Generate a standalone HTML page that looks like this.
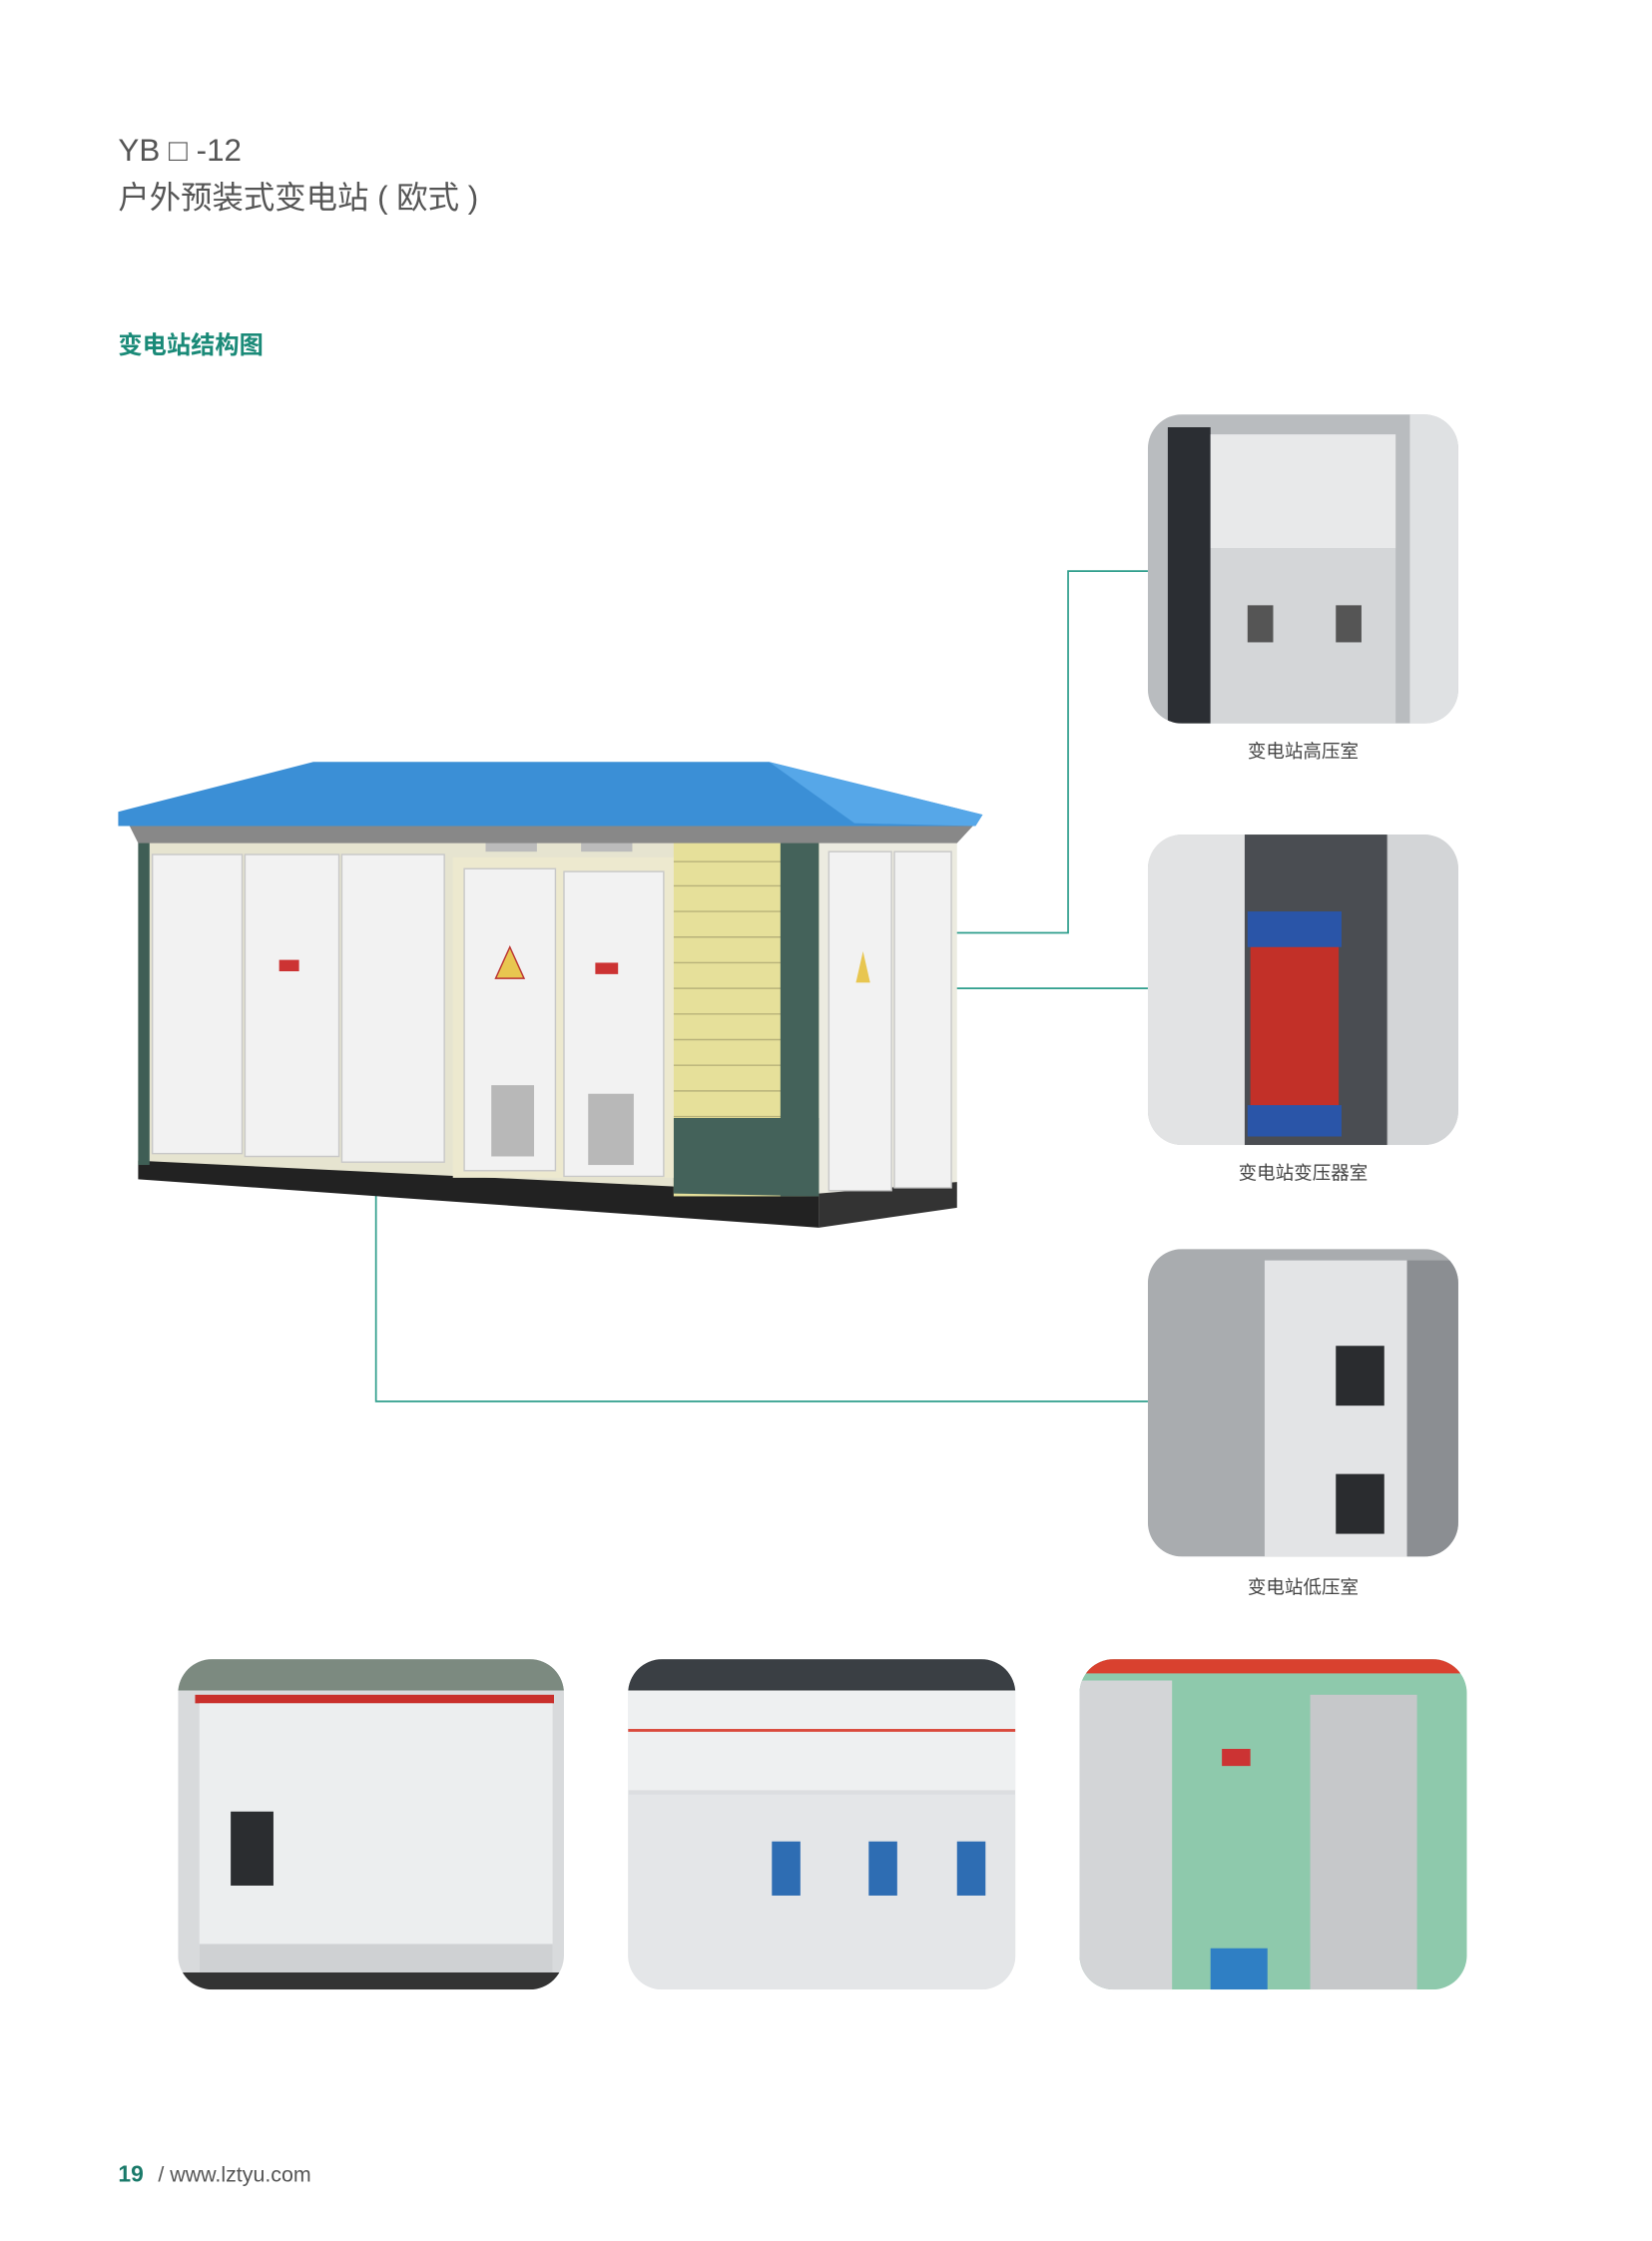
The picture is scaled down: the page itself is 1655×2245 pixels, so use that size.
<!DOCTYPE html>
<html><head><meta charset="utf-8"><style>
html,body{margin:0;padding:0;background:#fff}
svg{display:block}
text{font-family:"Liberation Sans","Noto Sans CJK SC",sans-serif}
</style></head><body>
<svg width="1655" height="2245" viewBox="0 0 1160 1573.55" xmlns="http://www.w3.org/2000/svg">
<defs>
<clipPath id="c1"><rect x="806" y="291" width="218" height="217" rx="24"/></clipPath>
<clipPath id="c2"><rect x="806" y="586" width="218" height="218" rx="24"/></clipPath>
<clipPath id="c3"><rect x="806" y="877" width="218" height="216" rx="24"/></clipPath>
<clipPath id="b1"><rect x="125" y="1165" width="271" height="232" rx="24"/></clipPath>
<clipPath id="b2"><rect x="441" y="1165" width="272" height="232" rx="24"/></clipPath>
<clipPath id="b3"><rect x="758" y="1165" width="272" height="232" rx="24"/></clipPath>
</defs>
<rect width="1160" height="1574" fill="#fff"/>
<text x="83" y="113" font-size="22" fill="#555">YB □ -12</text>
<text x="83" y="146" font-size="22" fill="#555">户外预装式变电站 ( 欧式 )</text>
<text x="83" y="248" font-size="17" font-weight="bold" fill="#1a8a78">变电站结构图</text>

<g stroke="#2f9e8c" stroke-width="1.2" fill="none">
<polyline points="656,655 750,655 750,401 806,401"/>
<polyline points="435,694 806,694"/>
<polyline points="264,785 264,984 806,984"/>
</g>

<g>
<polygon points="97,590 575,590 575,840 97,818" fill="#e6e4d0"/>
<polygon points="575,590 672,590 672,840 575,852" fill="#ecebe0"/>
<polygon points="97,815 575,838 575,862 97,828" fill="#222"/>
<polygon points="575,838 672,830 672,848 575,862" fill="#333"/>
<rect x="97" y="590" width="8" height="228" fill="#3f5e55"/>
<rect x="473" y="590" width="102" height="250" fill="#e6e09a"/>
<g stroke="#b8b27a" stroke-width="1">
<path d="M473,605H560M473,622H560M473,640H560M473,658H560M473,676H560M473,694H560M473,712H560M473,730H560M473,748H560M473,766H560M473,784H560"/>
</g>
<polygon points="548,590 575,590 575,840 548,840" fill="#44625a"/>
<polygon points="473,785 575,785 575,840 473,838" fill="#44625a"/>
<rect x="107" y="600" width="63" height="210" fill="#f2f2f2" stroke="#c8c8c8"/>
<rect x="172" y="600" width="66" height="212" fill="#f2f2f2" stroke="#c8c8c8"/>
<rect x="240" y="600" width="72" height="216" fill="#f2f2f2" stroke="#c8c8c8"/>
<rect x="318" y="602" width="155" height="225" fill="#ede9cf"/>
<rect x="326" y="610" width="64" height="212" fill="#f2f2f2" stroke="#c8c8c8"/>
<rect x="396" y="612" width="70" height="214" fill="#f2f2f2" stroke="#c8c8c8"/>
<rect x="345" y="762" width="30" height="50" fill="#b8b8b8"/>
<rect x="413" y="768" width="32" height="50" fill="#b8b8b8"/>
<polygon points="358,665 348,687 368,687" fill="#e8c650" stroke="#b33" stroke-width="1"/>
<rect x="196" y="674" width="14" height="8" fill="#c33"/>
<rect x="418" y="676" width="16" height="8" fill="#c33"/>
<rect x="582" y="598" width="44" height="238" fill="#f2f2f2" stroke="#c8c8c8"/>
<rect x="628" y="598" width="40" height="236" fill="#f2f2f2" stroke="#c8c8c8"/>
<polygon points="606,668 601,690 611,690" fill="#e8c650"/>
<rect x="341" y="588" width="36" height="10" fill="#bbb"/>
<rect x="408" y="588" width="36" height="10" fill="#bbb"/>
<polygon points="90,578 685,578 672,592 97,592" fill="#888"/>
<polygon points="220,535 540,535 690,572 685,580 83,580 83,570" fill="#3b8fd6"/>
<polygon points="540,535 690,572 685,580 600,578" fill="#56a7e8"/>
</g>

<g clip-path="url(#c1)">
<rect x="806" y="291" width="218" height="217" fill="#b9bcbf"/>
<rect x="820" y="300" width="30" height="208" fill="#2b2e33"/>
<rect x="850" y="305" width="130" height="80" fill="#e8e9ea"/>
<rect x="850" y="385" width="130" height="123" fill="#d4d6d8"/>
<rect x="990" y="291" width="34" height="217" fill="#dfe1e3"/>
<rect x="876" y="425" width="18" height="26" fill="#555"/>
<rect x="938" y="425" width="18" height="26" fill="#555"/>
</g>
<text x="915" y="532" font-size="13" fill="#444" text-anchor="middle">变电站高压室</text>

<g clip-path="url(#c2)">
<rect x="806" y="586" width="218" height="218" fill="#c9cbcd"/>
<rect x="806" y="586" width="68" height="218" fill="#e2e3e4"/>
<rect x="874" y="586" width="100" height="218" fill="#4a4d52"/>
<rect x="878" y="660" width="62" height="120" fill="#c23028"/>
<rect x="876" y="640" width="66" height="25" fill="#2a55a8"/>
<rect x="876" y="776" width="66" height="22" fill="#2a55a8"/>
<rect x="975" y="586" width="49" height="218" fill="#d3d5d7"/>
</g>
<text x="915" y="828" font-size="13" fill="#444" text-anchor="middle">变电站变压器室</text>

<g clip-path="url(#c3)">
<rect x="806" y="877" width="218" height="216" fill="#a9acaf"/>
<rect x="888" y="885" width="100" height="208" fill="#e3e4e6"/>
<rect x="938" y="945" width="34" height="42" fill="#2a2c2f"/>
<rect x="938" y="1035" width="34" height="42" fill="#2a2c2f"/>
<rect x="988" y="885" width="36" height="208" fill="#8b8e92"/>
</g>
<text x="915" y="1119" font-size="13" fill="#444" text-anchor="middle">变电站低压室</text>

<g clip-path="url(#b1)">
<rect x="125" y="1165" width="271" height="232" fill="#d8dadc"/>
<rect x="125" y="1165" width="271" height="22" fill="#7c8a80"/>
<rect x="137" y="1190" width="252" height="6" fill="#c9302c"/>
<rect x="140" y="1196" width="248" height="190" fill="#eceeef"/>
<rect x="162" y="1272" width="30" height="52" fill="#2b2d30"/>
<rect x="140" y="1365" width="248" height="20" fill="#cfd1d3"/>
<rect x="125" y="1385" width="271" height="12" fill="#333"/>
</g>
<g clip-path="url(#b2)">
<rect x="441" y="1165" width="272" height="232" fill="#dcdee0"/>
<rect x="441" y="1165" width="272" height="22" fill="#3a3f44"/>
<rect x="441" y="1187" width="272" height="70" fill="#eef0f1"/>
<rect x="441" y="1214" width="272" height="2" fill="#d9493c"/>
<rect x="441" y="1260" width="272" height="137" fill="#e4e6e8"/>
<rect x="542" y="1293" width="20" height="38" fill="#2e6db3"/>
<rect x="610" y="1293" width="20" height="38" fill="#2e6db3"/>
<rect x="672" y="1293" width="20" height="38" fill="#2e6db3"/>
</g>
<g clip-path="url(#b3)">
<rect x="758" y="1165" width="272" height="232" fill="#8ec9ac"/>
<rect x="758" y="1165" width="272" height="10" fill="#d9412f"/>
<rect x="758" y="1180" width="65" height="217" fill="#d3d5d7"/>
<rect x="920" y="1190" width="75" height="207" fill="#c6c8ca"/>
<rect x="850" y="1368" width="40" height="29" fill="#2f7fc4"/>
<rect x="858" y="1228" width="20" height="12" fill="#c33"/>
</g>

<text x="83" y="1532" font-size="16" font-weight="bold" fill="#1a7a6a">19</text>
<text x="111" y="1532" font-size="15" fill="#555">/ www.lztyu.com</text>
</svg>
</body></html>
